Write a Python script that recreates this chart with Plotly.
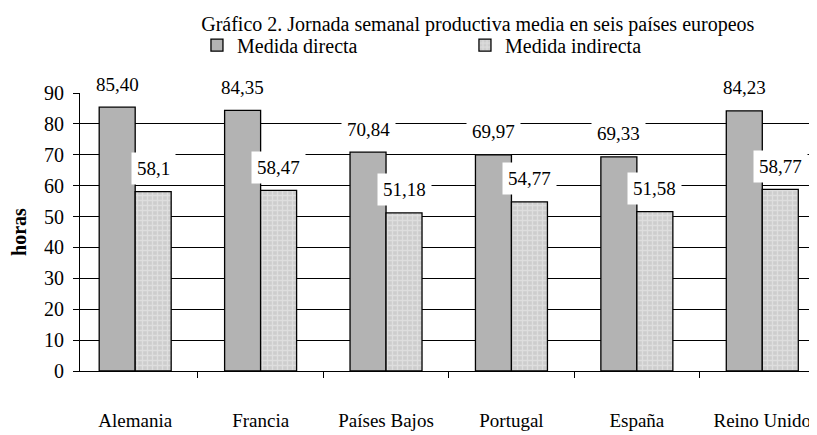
import plotly.graph_objects as go

categorias = ["Alemania", "Francia", "Países Bajos", "Portugal", "España", "Reino Unido"]
medida_directa = [85.40, 84.35, 70.84, 69.97, 69.33, 84.23]
medida_indirecta = [58.1, 58.47, 51.18, 54.77, 51.58, 58.77]
etiq_directa = ["85,40", "84,35", "70,84", "69,97", "69,33", "84,23"]
etiq_indirecta = ["58,1", "58,47", "51,18", "54,77", "51,58", "58,77"]
y_ticks = [0, 10, 20, 30, 40, 50, 60, 70, 80, 90]

FONT = "Liberation Serif, Times New Roman, serif"
FS = 19

fig = go.Figure()
fig.add_trace(go.Bar(
    name="Medida directa", x=categorias, y=medida_directa,
    marker=dict(color="#b3b3b3", line=dict(color="black", width=1.3)),
    offsetgroup="a",
))
fig.add_trace(go.Bar(
    name="Medida indirecta", x=categorias, y=medida_indirecta,
    marker=dict(color="#d6d6d6", line=dict(color="black", width=1.3),
                pattern=dict(shape="+", bgcolor="#cdcdcd", fgcolor="#efefef",
                             size=5, solidity=0.45)),
    offsetgroup="b",
))

annotations = []
for i, (v, t) in enumerate(zip(medida_directa, etiq_directa)):
    annotations.append(dict(x=i - 0.1435, y=v, xref="x", yref="y", text=t,
                            showarrow=False, yanchor="middle", yshift=23,
                            bgcolor="white", borderpad=5,
                            font=dict(family=FONT, size=FS, color="black")))
for i, (v, t) in enumerate(zip(medida_indirecta, etiq_indirecta)):
    annotations.append(dict(x=i + 0.1435, y=v, xref="x", yref="y", text=t,
                            showarrow=False, yanchor="middle", yshift=23,
                            bgcolor="white", borderpad=5,
                            font=dict(family=FONT, size=FS, color="black")))

fig.update_layout(
    width=817, height=435,
    margin=dict(l=72, r=0, t=85, b=72),
    paper_bgcolor="white", plot_bgcolor="white",
    font=dict(family=FONT, size=FS, color="black"),
    barmode="group", bargap=0.426, bargroupgap=0,
    title=dict(text="Gráfico 2. Jornada semanal productiva media en seis países europeos",
               x=0.575, xanchor="center", xref="container",
               y=1 - 16 / 435, yanchor="middle", yref="container",
               font=dict(family=FONT, size=20, color="black")),
    legend=dict(orientation="h", x=0.157, xanchor="left", y=1.172, yanchor="middle",
                font=dict(family=FONT, size=20, color="black"),
                entrywidth=223, entrywidthmode="pixels",
                bgcolor="rgba(0,0,0,0)", itemclick=False),
    showlegend=True,
    annotations=annotations,
)
fig.update_xaxes(
    range=[-0.44, 5.5], showgrid=False, showline=True, linecolor="black", linewidth=1,
    ticks="outside", tickson="boundaries", ticklen=6, tickcolor="black",
    ticklabelstandoff=32, tickfont=dict(family=FONT, size=FS, color="black"),
    fixedrange=True,
)
fig.update_yaxes(
    range=[0, 90], tickvals=y_ticks, showgrid=True, gridcolor="black", gridwidth=1,
    showline=True, linecolor="black", linewidth=1, ticks="outside", ticklen=6,
    tickcolor="black", zeroline=False, ticklabelstandoff=5,
    title=dict(text="<b>horas</b>", standoff=22, font=dict(family=FONT, size=20, color="black")),
    tickfont=dict(family=FONT, size=20, color="black"), fixedrange=True,
)

fig.write_html("out.html")
